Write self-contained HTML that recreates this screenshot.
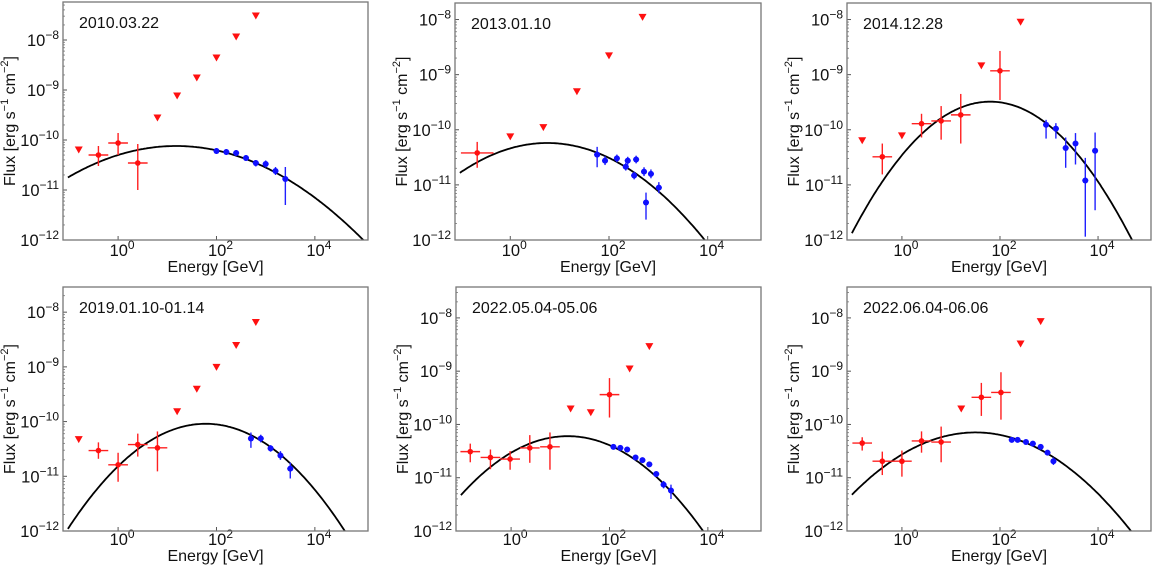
<!DOCTYPE html>
<html><head><meta charset="utf-8">
<style>
html,body{margin:0;padding:0;background:#fff;overflow:hidden;}
svg{display:block;font-family:"Liberation Sans","DejaVu Sans",sans-serif;}
</style></head>
<body>
<svg id="fig" width="1153" height="565" viewBox="0 0 1153 565" xmlns="http://www.w3.org/2000/svg"></svg>
<script>
// ---- data (log10 values) ----
const panelTitles = ["2010.03.22","2013.01.10","2014.12.28","2019.01.10-01.14","2022.05.04-05.06","2022.06.04-06.06"];
const yMaxLog = [-7.24,-7.7,-7.7,-7.54,-7.42,-7.42];
const curvePeakE = [1.18,0.75,1.8,1.78,1.15,1.5];
const curvePeakF = [-10.12,-10.24,-9.49,-10.04,-10.22,-10.15];
const curveCurv = [0.13,0.173,0.30,0.245,0.235,0.184];
const xTickLabels = ["0","2","4"];
const yTickLabels = ["-12","-11","-10","-9","-8"];

const ulE1=[-0.8,0.8,1.2,1.6,2.0,2.4,2.8], ulF1=[-10.2,-9.56,-9.12,-8.76,-8.36,-7.94,-7.52];
const redE1=[-0.4,0,0.4], redF1=[-10.3,-10.06,-10.46], redLo1=[-10.52,-10.3,-11.0], redHi1=[-10.12,-9.86,-10.08], redXe1=[0.2,0.2,0.2];
const blueE1=[2.0,2.2,2.4,2.6,2.8,3.0,3.2,3.4], blueF1=[-10.22,-10.24,-10.26,-10.36,-10.46,-10.48,-10.62,-10.78];
const blueLo1=[-10.28,-10.3,-10.32,-10.42,-10.53,-10.55,-10.7,-11.3], blueHi1=[-10.16,-10.18,-10.2,-10.3,-10.4,-10.41,-10.54,-10.54];

const ulE2=[0,0.67,1.35,2.0,2.68], ulF2=[-10.13,-9.96,-9.31,-8.66,-7.96];
const redE2=[-0.67], redF2=[-10.42], redLo2=[-10.69], redHi2=[-10.22], redXe2=[0.33];
const blueE2=[1.76,1.92,2.16,2.34,2.38,2.55,2.51,2.71,2.75,2.85,3.01], blueF2=[-10.45,-10.56,-10.52,-10.67,-10.56,-10.54,-10.83,-10.76,-11.32,-10.8,-11.05];
const blueLo2=[-10.68,-10.64,-10.59,-10.74,-10.63,-10.61,-10.9,-10.84,-11.63,-10.88,-11.15], blueHi2=[-10.31,-10.48,-10.45,-10.6,-10.49,-10.47,-10.76,-10.68,-11.14,-10.72,-10.95];

const ulE3=[-0.81,0,1.62,2.42], ulF3=[-10.2,-10.11,-8.84,-8.05];
const redE3=[-0.4,0.4,0.8,1.2,2.0], redF3=[-10.49,-9.89,-9.84,-9.73,-8.93], redLo3=[-10.81,-10.14,-10.18,-10.25,-9.46], redHi3=[-10.25,-9.71,-9.57,-9.35,-8.57], redXe3=[0.2,0.2,0.2,0.2,0.2];
const blueE3=[2.94,3.14,3.34,3.54,3.74,3.94], blueF3=[-9.91,-9.98,-10.33,-10.25,-10.92,-10.38];
const blueLo3=[-10.16,-10.16,-10.69,-10.63,-11.94,-11.46], blueHi3=[-9.82,-9.88,-10.14,-10.06,-10.51,-10.05];

const ulE4=[-0.8,1.2,1.6,2.0,2.4,2.8], ulF4=[-10.33,-9.82,-9.41,-9.01,-8.61,-8.19];
const redE4=[-0.4,0,0.4,0.8], redF4=[-10.53,-10.79,-10.42,-10.48], redLo4=[-10.68,-11.1,-10.64,-10.91], redHi4=[-10.38,-10.57,-10.22,-10.18], redXe4=[0.2,0.2,0.2,0.2];
const blueE4=[2.7,2.9,3.1,3.3,3.5], blueF4=[-10.31,-10.31,-10.49,-10.62,-10.86];
const blueLo4=[-10.48,-10.38,-10.55,-10.7,-11.04], blueHi4=[-10.2,-10.24,-10.43,-10.54,-10.75];

const ulE5=[1.21,1.62,2.41,2.81], ulF5=[-9.71,-9.78,-8.96,-8.54];
const redE5=[-0.83,-0.42,-0.02,0.38,0.79,2.0], redF5=[-10.51,-10.62,-10.65,-10.44,-10.42,-9.44], redLo5=[-10.71,-10.84,-10.85,-10.72,-10.85,-9.87], redHi5=[-10.36,-10.47,-10.5,-10.2,-10.15,-9.13], redXe5=[0.2,0.2,0.2,0.2,0.2,0.2];
const blueE5=[2.08,2.22,2.36,2.53,2.67,2.81,2.95,3.1,3.25], blueF5=[-10.42,-10.44,-10.47,-10.62,-10.67,-10.75,-10.93,-11.13,-11.24];
const blueLo5=[-10.46,-10.48,-10.52,-10.66,-10.71,-10.8,-10.98,-11.2,-11.4], blueHi5=[-10.38,-10.4,-10.43,-10.58,-10.63,-10.7,-10.88,-11.06,-11.13];

const ulE6=[1.21,2.42,2.83], ulF6=[-9.71,-8.49,-8.07];
const redE6=[-0.81,-0.4,0,0.4,0.8,1.62,2.02], redF6=[-10.35,-10.69,-10.69,-10.31,-10.33,-9.49,-9.4], redLo6=[-10.49,-10.95,-10.98,-10.53,-10.71,-9.84,-9.91], redHi6=[-10.24,-10.51,-10.49,-10.13,-10.04,-9.22,-9.02], redXe6=[0.2,0.2,0.2,0.2,0.2,0.2,0.2];
const blueE6=[2.24,2.36,2.53,2.67,2.83,2.97,3.09], blueF6=[-10.29,-10.29,-10.33,-10.36,-10.42,-10.53,-10.69];
const blueLo6=[-10.34,-10.33,-10.37,-10.4,-10.46,-10.58,-10.76], blueHi6=[-10.25,-10.25,-10.29,-10.32,-10.38,-10.48,-10.62];

const ulE=[ulE1,ulE2,ulE3,ulE4,ulE5,ulE6], ulF=[ulF1,ulF2,ulF3,ulF4,ulF5,ulF6];
const redE=[redE1,redE2,redE3,redE4,redE5,redE6], redF=[redF1,redF2,redF3,redF4,redF5,redF6];
const redLo=[redLo1,redLo2,redLo3,redLo4,redLo5,redLo6], redHi=[redHi1,redHi2,redHi3,redHi4,redHi5,redHi6], redXe=[redXe1,redXe2,redXe3,redXe4,redXe5,redXe6];
const blueE=[blueE1,blueE2,blueE3,blueE4,blueE5,blueE6], blueF=[blueF1,blueF2,blueF3,blueF4,blueF5,blueF6];
const blueLo=[blueLo1,blueLo2,blueLo3,blueLo4,blueLo5,blueLo6], blueHi=[blueHi1,blueHi2,blueHi3,blueHi4,blueHi5,blueHi6];

// ---- layout ----
const boxes=[[63,2,368,240],[455,3,761,240],[847,3,1151,240],[63,287,368,531],[456,287,761,531],[847,287,1151,531]];
const xMinLog=-1.12, xMaxLog=5.08, yMinLog=-12;
const NS="http://www.w3.org/2000/svg";
const svg=document.getElementById('fig');
function mk(tag,attrs,parent){const e=document.createElementNS(NS,tag);for(const k in attrs)e.setAttribute(k,attrs[k]);(parent||svg).appendChild(e);return e;}

boxes.forEach((b,i)=>{
  const [x0,y0,x1,y1]=b;
  const row2=i>=3;
  const g=mk('g',{});
  
  
  const sx=v=>x0+(v-xMinLog)/(xMaxLog-xMinLog)*(x1-x0);
  const sy=v=>y1-(v-yMinLog)/(yMaxLog[i]-yMinLog)*(y1-y0);
  const clipId='clip'+i;
  const cp=mk('clipPath',{id:clipId},g);
  mk('rect',{x:x0,y:y0,width:x1-x0,height:y1-y0},cp);

  const xt=mk('g',{},g);
  
  
  xTickLabels.forEach(t=>{
    const X=sx(+t);
    mk('line',{x1:X,x2:X,y1:y1,y2:y1-4,stroke:'#555','stroke-width':1},xt);
    const tx=mk('text',{x:X+4,y:y1+(row2?14:16),'font-size':16.5,'text-anchor':'middle',fill:'#111'},xt);
    tx.textContent='10';
    const sp=mk('tspan',{dy:-7,'font-size':12},tx);sp.textContent=t;
  });
  const yt=mk('g',{},g);
  
  
  yTickLabels.forEach(t=>{
    const v=+t, Y=sy(v);
    mk('line',{x1:x0,x2:x0+4,y1:Y,y2:Y,stroke:'#555','stroke-width':1},yt);
    for(let m=2;m<10;m++){const Ym=sy(v+Math.log10(m));if(Ym>y0)mk('line',{x1:x0,x2:x0+2,y1:Ym,y2:Ym,stroke:'#777','stroke-width':0.8},yt);}
    const tx=mk('text',{x:x0-4,y:Y+6,'font-size':16.5,'text-anchor':'end',fill:'#111'},yt);
    tx.textContent='10';
    const sp=mk('tspan',{dy:-7,'font-size':12},tx);
    sp.textContent='\u2212'+t.slice(1);
  });

  const pts=[];
  for(let k=0;k<=200;k++){const lx=xMinLog+0.1+(xMaxLog-xMinLog-0.1)*k/200;const lf=curvePeakF[i]-curveCurv[i]*(lx-curvePeakE[i])**2;pts.push(sx(lx).toFixed(1)+','+sy(lf).toFixed(1));}
  const cv=mk('polyline',{points:pts.join(' '),fill:'none',stroke:'#000','stroke-width':1.8,'clip-path':'url(#'+clipId+')'},g);
  
  

  redE[i].forEach((e,j)=>{
    const X=sx(e),Y=sy(redF[i][j]);
    const pg=mk('g',{stroke:'#ff2020','stroke-width':1.4},g);
    
    
    mk('line',{x1:sx(e-redXe[i][j]),x2:sx(e+redXe[i][j]),y1:Y,y2:Y},pg);
    mk('line',{x1:X,x2:X,y1:sy(redLo[i][j]),y2:sy(redHi[i][j])},pg);
    mk('circle',{cx:X,cy:Y,r:2.8,fill:'#ff1010',stroke:'none'},pg);
  });
  ulE[i].forEach((e,j)=>{
    const X=sx(e),Y=sy(ulF[i][j]);
    const t=mk('polygon',{points:`${X-4},${Y-3.5} ${X+4},${Y-3.5} ${X},${Y+3.5}`,fill:'#ff1010'},g);
    
    
  });
  blueE[i].forEach((e,j)=>{
    const X=sx(e),Y=sy(blueF[i][j]);
    const pg=mk('g',{stroke:'#2020ff','stroke-width':1.4},g);
    
    
    mk('line',{x1:sx(e-0.06),x2:sx(e+0.06),y1:Y,y2:Y},pg);
    mk('line',{x1:X,x2:X,y1:sy(blueLo[i][j]),y2:sy(blueHi[i][j])},pg);
    mk('circle',{cx:X,cy:Y,r:3,fill:'#1010ff',stroke:'none'},pg);
  });

  const fr=mk('rect',{x:x0,y:y0,width:x1-x0,height:y1-y0,fill:'none',stroke:'#777','stroke-width':1.3},g);
  
  

  const ti=mk('text',{x:x0+16,y:y0+26,'font-size':16,fill:'#111'},g);
  ti.textContent=panelTitles[i];
  
  

  const xl=mk('text',{x:(x0+x1)/2,y:y1+(row2?30:32),'font-size':16,'text-anchor':'middle',fill:'#111'},g);
  xl.textContent='Energy [GeV]';
  
  

  const yc=(y0+y1)/2, xc=x0-48;
  const yl=mk('text',{x:xc,y:yc,'font-size':16,'text-anchor':'middle',fill:'#111',transform:`rotate(-90 ${xc} ${yc})`},g);
  yl.innerHTML='Flux [erg s<tspan dy="-7" font-size="11">\u22121</tspan><tspan dy="7"> cm</tspan><tspan dy="-7" font-size="11">\u22122</tspan><tspan dy="7">]</tspan>';
  
  
});
</script>
</body></html>
